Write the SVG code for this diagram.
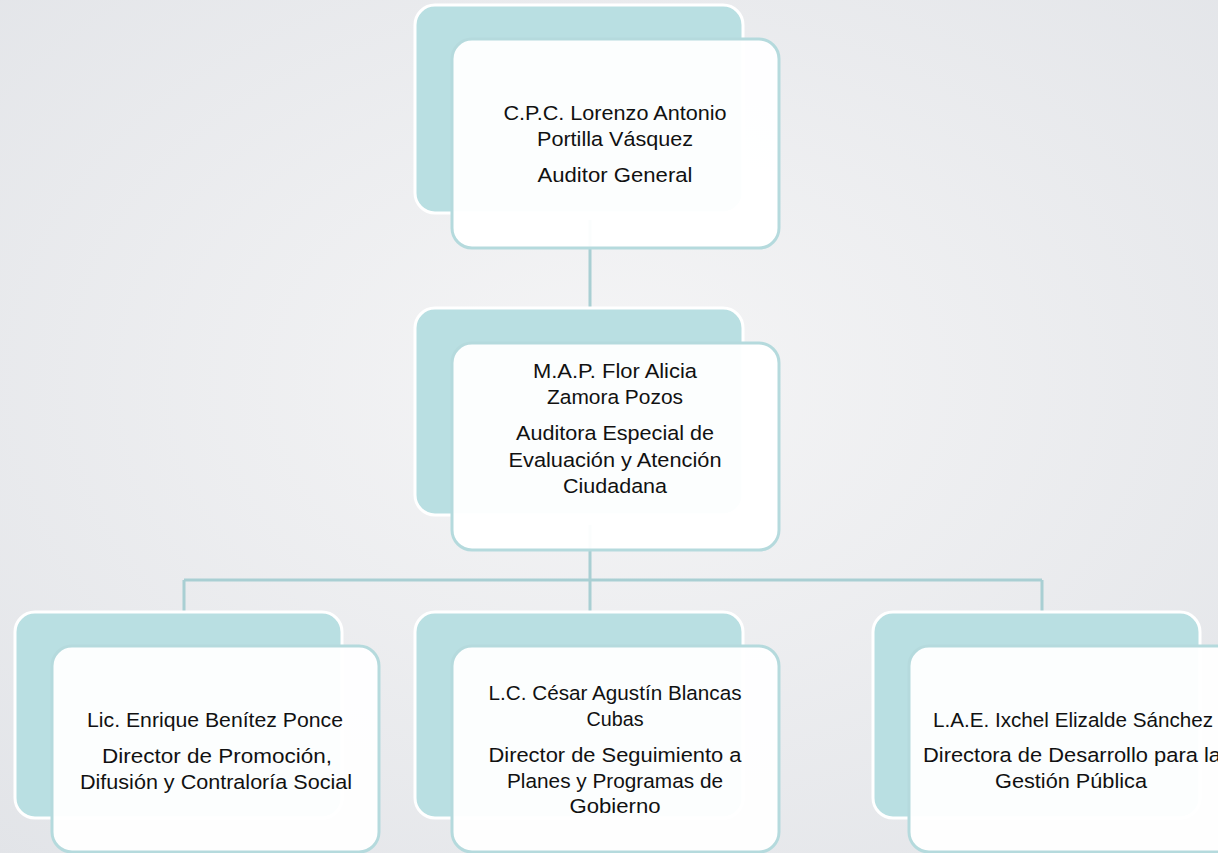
<svg xmlns="http://www.w3.org/2000/svg" width="1218" height="853" viewBox="0 0 1218 853">
<defs>
<radialGradient id="bg" cx="50%" cy="45%" r="75%">
<stop offset="0" stop-color="#f5f5f6"/>
<stop offset="1" stop-color="#e2e4e8"/>
</radialGradient>
<style>
.back{fill:#b9dfe2;stroke:#ffffff;stroke-width:3}
.front{fill:#ffffff;fill-opacity:0.95;stroke:#b5dadd;stroke-width:3}
.conn{stroke:#a9cfd3;stroke-width:3;fill:none}
text{font-family:"Liberation Sans",Arial,sans-serif;font-size:20.5px;fill:#111;text-anchor:middle}
</style>
</defs>
<rect x="0" y="0" width="1218" height="853" fill="url(#bg)"/>
<g id="connectors">
<path class="conn" d="M590,220 V320"/>
<path class="conn" d="M590,525 V612"/>
<path class="conn" d="M184,580 H1042"/>
<path class="conn" d="M184,580 V614"/>
<path class="conn" d="M1042,580 V614"/>
</g>
<g id="node-auditor">
<rect class="back" x="415" y="5" width="328" height="208" rx="20"/>
<rect class="front" x="452" y="39" width="327" height="209" rx="20"/>
<text x="615" y="120" textLength="223" lengthAdjust="spacingAndGlyphs">C.P.C. Lorenzo Antonio</text>
<text x="615" y="146" textLength="156" lengthAdjust="spacingAndGlyphs">Portilla Vásquez</text>
<text x="615" y="182" textLength="155" lengthAdjust="spacingAndGlyphs">Auditor General</text>
</g>
<g id="node-auditora">
<rect class="back" x="415" y="308" width="328" height="207" rx="20"/>
<rect class="front" x="452" y="343" width="327" height="207" rx="20"/>
<text x="615" y="378" textLength="164" lengthAdjust="spacingAndGlyphs">M.A.P. Flor Alicia</text>
<text x="615" y="404" textLength="136" lengthAdjust="spacingAndGlyphs">Zamora Pozos</text>
<text x="615" y="440" textLength="198" lengthAdjust="spacingAndGlyphs">Auditora Especial de</text>
<text x="615" y="467" textLength="213" lengthAdjust="spacingAndGlyphs">Evaluación y Atención</text>
<text x="615" y="493" textLength="104" lengthAdjust="spacingAndGlyphs">Ciudadana</text>
</g>
<g id="node-enrique">
<rect class="back" x="15" y="612" width="327" height="206" rx="20"/>
<rect class="front" x="52" y="646" width="327" height="206" rx="20"/>
<text x="215" y="727" textLength="256" lengthAdjust="spacingAndGlyphs">Lic. Enrique Benítez Ponce</text>
<text x="217" y="763" textLength="230" lengthAdjust="spacingAndGlyphs">Director de Promoción,</text>
<text x="216" y="789" textLength="272" lengthAdjust="spacingAndGlyphs">Difusión y Contraloría Social</text>
</g>
<g id="node-cesar">
<rect class="back" x="415" y="612" width="328" height="206" rx="20"/>
<rect class="front" x="452" y="646" width="327" height="206" rx="20"/>
<text x="615" y="700" textLength="253" lengthAdjust="spacingAndGlyphs">L.C. César Agustín Blancas</text>
<text x="615" y="726" textLength="57" lengthAdjust="spacingAndGlyphs">Cubas</text>
<text x="615" y="762" textLength="253" lengthAdjust="spacingAndGlyphs">Director de Seguimiento a</text>
<text x="615" y="788" textLength="216" lengthAdjust="spacingAndGlyphs">Planes y Programas de</text>
<text x="615" y="813" textLength="91" lengthAdjust="spacingAndGlyphs">Gobierno</text>
</g>
<g id="node-ixchel">
<rect class="back" x="873" y="612" width="327" height="206" rx="20"/>
<rect class="front" x="909" y="646" width="327" height="206" rx="20"/>
<text x="1073" y="727" textLength="280" lengthAdjust="spacingAndGlyphs">L.A.E. Ixchel Elizalde Sánchez</text>
<text x="1072" y="762" textLength="298" lengthAdjust="spacingAndGlyphs">Directora de Desarrollo para la</text>
<text x="1071" y="788" textLength="152" lengthAdjust="spacingAndGlyphs">Gestión Pública</text>
</g>
</svg>
